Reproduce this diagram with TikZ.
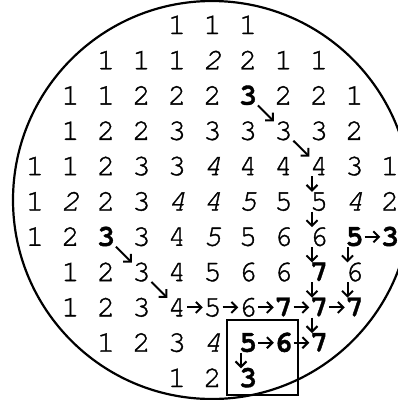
\documentclass[tikz,border=0pt]{standalone}
\usepackage{fontspec}
\newfontfamily\monof[UprightFeatures={FakeBold=1.2},ItalicFeatures={FakeBold=1.2},BoldFeatures={FakeBold=1.2}]{TeX Gyre Cursor}
\usetikzlibrary{arrows.meta}
\newcommand\dgt[4]{\node[dig,#3] (r#1c#2) at ({35+35.5*#2},{25+35.3*(#1-1)}) {#4};}
\tikzset{
  dig/.style={font=\monof\fontsize{30}{30}\selectfont, inner sep=0pt, text height=18pt, text depth=0pt, anchor=center},
  itd/.style={font=\monof\itshape\fontsize{30}{30}\selectfont},
  bfd/.style={font=\monof\bfseries\fontsize{30}{30}\selectfont},
  arr/.style={line width=2pt, -{Straight Barb[length=5.5pt,width=11pt]}, shorten >=0.5pt, shorten <=1pt},
  rim/.style={line width=2.2pt},
}
\begin{document}
\begin{tikzpicture}[x=1pt,y=-1pt]
\useasboundingbox (0,0) rectangle (398,400);
\clip (0,0) rectangle (398,400);
\draw[rim] (212,200) circle[radius=199pt];
% row 1
\dgt{1}{4}{}{1}\dgt{1}{5}{}{1}\dgt{1}{6}{}{1}
% row 2
\dgt{2}{2}{}{1}\dgt{2}{3}{}{1}\dgt{2}{4}{}{1}\dgt{2}{5}{itd}{2}\dgt{2}{6}{}{2}\dgt{2}{7}{}{1}\dgt{2}{8}{}{1}
% row 3
\dgt{3}{1}{}{1}\dgt{3}{2}{}{1}\dgt{3}{3}{}{2}\dgt{3}{4}{}{2}\dgt{3}{5}{}{2}\dgt{3}{6}{bfd}{3}\dgt{3}{7}{}{2}\dgt{3}{8}{}{2}\dgt{3}{9}{}{1}
% row 4
\dgt{4}{1}{}{1}\dgt{4}{2}{}{2}\dgt{4}{3}{}{2}\dgt{4}{4}{}{3}\dgt{4}{5}{}{3}\dgt{4}{6}{}{3}\dgt{4}{7}{}{3}\dgt{4}{8}{}{3}\dgt{4}{9}{}{2}
% row 5
\dgt{5}{0}{}{1}\dgt{5}{1}{}{1}\dgt{5}{2}{}{2}\dgt{5}{3}{}{3}\dgt{5}{4}{}{3}\dgt{5}{5}{itd}{4}\dgt{5}{6}{}{4}\dgt{5}{7}{}{4}\dgt{5}{8}{}{4}\dgt{5}{9}{}{3}\dgt{5}{10}{}{1}
% row 6
\dgt{6}{0}{}{1}\dgt{6}{1}{itd}{2}\dgt{6}{2}{}{2}\dgt{6}{3}{}{3}\dgt{6}{4}{itd}{4}\dgt{6}{5}{itd}{4}\dgt{6}{6}{itd}{5}\dgt{6}{7}{}{5}\dgt{6}{8}{}{5}\dgt{6}{9}{itd}{4}\dgt{6}{10}{}{2}
% row 7
\dgt{7}{0}{}{1}\dgt{7}{1}{}{2}\dgt{7}{2}{bfd}{3}\dgt{7}{3}{}{3}\dgt{7}{4}{}{4}\dgt{7}{5}{itd}{5}\dgt{7}{6}{}{5}\dgt{7}{7}{}{6}\dgt{7}{8}{}{6}\dgt{7}{9}{bfd}{5}\dgt{7}{10}{bfd}{3}
% row 8
\dgt{8}{1}{}{1}\dgt{8}{2}{}{2}\dgt{8}{3}{}{3}\dgt{8}{4}{}{4}\dgt{8}{5}{}{5}\dgt{8}{6}{}{6}\dgt{8}{7}{}{6}\dgt{8}{8}{bfd}{7}\dgt{8}{9}{}{6}
% row 9
\dgt{9}{1}{}{1}\dgt{9}{2}{}{2}\dgt{9}{3}{}{3}\dgt{9}{4}{}{4}\dgt{9}{5}{}{5}\dgt{9}{6}{}{6}\dgt{9}{7}{bfd}{7}\dgt{9}{8}{bfd}{7}\dgt{9}{9}{bfd}{7}
% row 10
\dgt{10}{2}{}{1}\dgt{10}{3}{}{2}\dgt{10}{4}{}{3}\dgt{10}{5}{itd}{4}\dgt{10}{6}{bfd}{5}\dgt{10}{7}{bfd}{6}\dgt{10}{8}{bfd}{7}
% row 11
\dgt{11}{4}{}{1}\dgt{11}{5}{}{2}\dgt{11}{6}{bfd}{3}
% diagonal arrows
\draw[arr] (r3c6) -- (r4c7);
\draw[arr] (r4c7) -- (r5c8);
\draw[arr] (r7c2) -- (r8c3);
\draw[arr] (r8c3) -- (r9c4);
% down arrows
\foreach \a/\b in {r5c8/r6c8, r6c8/r7c8, r7c8/r8c8, r7c9/r8c9, r8c8/r9c8, r8c9/r9c9, r9c8/r10c8, r10c6/r11c6}
  \draw[arr] ([xshift=-7pt]\a.south) -- ([xshift=-7pt]\b.north);
% horizontal arrows
\foreach \a/\b in {r7c9/r7c10, r9c4/r9c5, r9c5/r9c6, r9c6/r9c7, r9c7/r9c8, r9c8/r9c9, r10c6/r10c7, r10c7/r10c8}
  \draw[arr] (\a) -- (\b);
% box
\draw[rim] (227,320) rectangle (298,395);
\end{tikzpicture}
\end{document}
